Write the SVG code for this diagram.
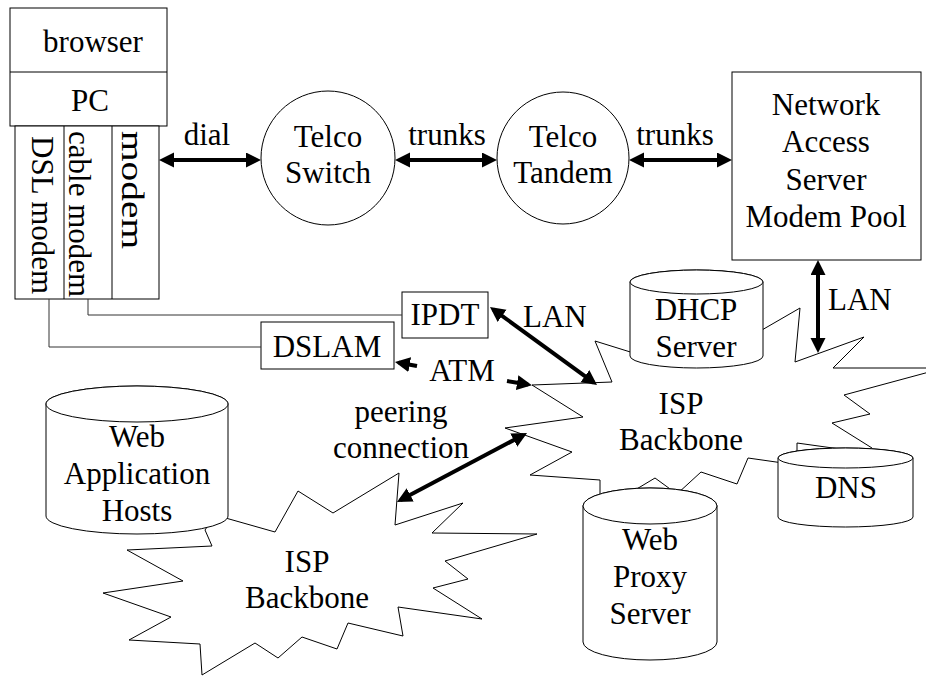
<svg xmlns="http://www.w3.org/2000/svg" width="926" height="677" viewBox="0 0 926 677">
<defs>
<marker id="ah" markerUnits="userSpaceOnUse" markerWidth="16" markerHeight="16" refX="11" refY="7.5" orient="auto-start-reverse"><path d="M0,0 L15,7.5 L0,15 z" fill="#000"/></marker>
</defs>
<style>
text{font-family:"Liberation Serif","Times New Roman",serif;font-size:31px;fill:#000;text-anchor:middle}
.s{fill:#fff;stroke:#000;stroke-width:1}
.c{fill:none;stroke:#000;stroke-width:4}
.w{fill:none;stroke:#333;stroke-width:1}
.st{text-anchor:start}
</style>
<rect width="926" height="677" fill="#fff"/>

<g id="isp-backbone-right">
<polygon class="s" points="532,385 612,382 595,341 640,355 755,334 800,308 795,362 864,337 833,368 944,368 844,395 870,414 832,423 872,448 870,470 840,449 797,443 797,465 748,458 737,484 701,472 677,494 655,478 625,496 600,500 600,480 530,475 572,452 505,428 583,417"/>
<text x="681" y="414">ISP</text>
<text x="681" y="450">Backbone</text>
</g>

<g id="isp-backbone-left">
<polygon class="s" points="215,515 275,532 298,491 333,513 399,473 395,525 463,503 432,533 537,534 445,561 468,579 433,588 482,619 398,607 403,636 348,623 337,649 302,637 278,658 255,643 202,675 200,644 129,640 171,617 103,593 183,581 127,550 212,546 205,530"/>
<text x="307" y="572">ISP</text>
<text x="307" y="608">Backbone</text>
</g>

<g id="pc">
<rect class="s" x="10" y="8" width="157" height="118"/>
<line class="s" x1="10" y1="72" x2="167" y2="72"/>
<text x="93" y="52">browser</text>
<text x="90" y="111">PC</text>
</g>

<g id="modems">
<rect class="s" x="15" y="126" width="144" height="173"/>
<line class="s" x1="64" y1="126" x2="64" y2="299"/>
<line class="s" x1="112" y1="126" x2="112" y2="299"/>
<text class="st" transform="translate(32,136) rotate(90)">DSL modem</text>
<text class="st" transform="translate(69,131) rotate(90)">cable modem</text>
<text class="st" transform="translate(122,131) rotate(90)" textLength="118" lengthAdjust="spacingAndGlyphs">modem</text>
</g>

<g id="telco-switch">
<circle class="s" cx="328" cy="158" r="67"/>
<text x="328" y="147">Telco</text>
<text x="328" y="183">Switch</text>
</g>

<g id="telco-tandem">
<circle class="s" cx="563" cy="158" r="66"/>
<text x="563" y="147">Telco</text>
<text x="563" y="183">Tandem</text>
</g>

<g id="nas">
<rect class="s" x="732" y="72" width="189" height="188"/>
<text x="826" y="115">Network</text>
<text x="826" y="152">Access</text>
<text x="826" y="190">Server</text>
<text x="826" y="227">Modem Pool</text>
</g>

<g id="ipdt">
<rect class="s" x="402" y="292" width="86" height="46"/>
<text x="445" y="325">IPDT</text>
</g>

<g id="dslam">
<rect class="s" x="261" y="322" width="133" height="47"/>
<text x="327" y="357">DSLAM</text>
</g>

<g id="dhcp">
<path class="s" d="M630,282 L630,356 A66.5,12 0 0 0 763,356 L763,282 A66.5,12 0 0 0 630,282 Z"/>
<ellipse class="s" cx="696.5" cy="282" rx="66.5" ry="12"/>
<text x="696" y="320">DHCP</text>
<text x="696" y="357">Server</text>
</g>

<g id="dns">
<path class="s" d="M778,458 L778,517 A67.5,10 0 0 0 913,517 L913,458 A67.5,10 0 0 0 778,458 Z"/>
<ellipse class="s" cx="845.5" cy="458" rx="67.5" ry="10"/>
<text x="846" y="498">DNS</text>
</g>

<g id="web-proxy">
<path class="s" d="M583,506 L583,642 A67,18 0 0 0 717,642 L717,506 A67,18 0 0 0 583,506 Z"/>
<ellipse class="s" cx="650" cy="506" rx="67" ry="18"/>
<text x="650" y="550">Web</text>
<text x="650" y="587">Proxy</text>
<text x="650" y="624">Server</text>
</g>

<g id="web-hosts">
<path class="s" d="M46,404 L46,516 A91,18 0 0 0 228,516 L228,404 A91,18 0 0 0 46,404 Z"/>
<ellipse class="s" cx="137" cy="404" rx="91" ry="18"/>
<text x="137" y="447">Web</text>
<text x="137" y="484">Application</text>
<text x="137" y="521">Hosts</text>
</g>

<g id="connectors">
<polyline class="w" points="88,299 88,315 402,315"/>
<polyline class="w" points="49,299 49,347 261,347"/>
<line class="c" x1="163" y1="160" x2="257" y2="160" marker-start="url(#ah)" marker-end="url(#ah)"/>
<line class="c" x1="399" y1="160" x2="493" y2="160" marker-start="url(#ah)" marker-end="url(#ah)"/>
<line class="c" x1="633" y1="160" x2="728" y2="160" marker-start="url(#ah)" marker-end="url(#ah)"/>
<line class="c" x1="818" y1="264" x2="818" y2="349" marker-start="url(#ah)" marker-end="url(#ah)"/>
<line class="c" x1="493.2" y1="309.4" x2="593.8" y2="382.6" marker-start="url(#ah)" marker-end="url(#ah)"/>
<line class="c" x1="417" y1="366" x2="398.9" y2="362.7" marker-end="url(#ah)"/>
<line class="c" x1="507" y1="381" x2="528" y2="384.5" marker-end="url(#ah)"/>
<line class="c" x1="400.5" y1="500.1" x2="523.5" y2="434.9" marker-start="url(#ah)" marker-end="url(#ah)"/>
<text x="207" y="145">dial</text>
<text x="447" y="145">trunks</text>
<text x="675" y="145">trunks</text>
<text class="st" x="828" y="310">LAN</text>
<text class="st" x="523" y="327">LAN</text>
<text x="462" y="381">ATM</text>
<text x="401" y="422">peering</text>
<text x="401" y="458">connection</text>
</g>
</svg>
